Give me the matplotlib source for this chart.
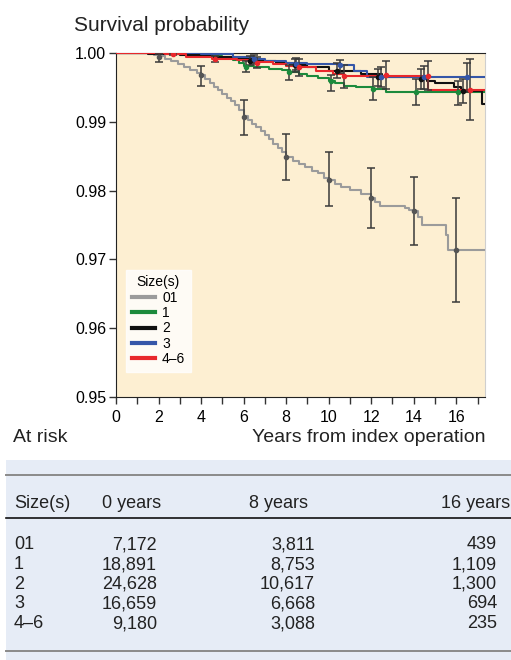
import numpy as np
import matplotlib.pyplot as plt
from matplotlib.patches import Rectangle
from matplotlib.lines import Line2D
from matplotlib.ticker import MultipleLocator

plt.rcParams['font.family'] = ['Liberation Sans', 'DejaVu Sans']

W, H = 511, 660

# Kaplan-Meier step curves (time in years, survival)
grey_t = [0, 1.2, 1.6, 1.8, 2.0, 2.3, 2.6, 2.9, 3.2, 3.5, 3.8, 4.0, 4.2, 4.4, 4.6, 4.8, 5.0,
          5.2, 5.4, 5.6, 5.8, 6.0, 6.2, 6.4, 6.6, 6.8, 7.0, 7.2, 7.4, 7.6, 7.8, 8.0, 8.3, 8.6,
          8.9, 9.2, 9.5, 9.8, 10.0, 10.3, 10.6, 11.0, 11.5, 12.0, 12.2, 12.4, 13.6, 13.8, 14.0,
          14.2, 14.4, 15.5, 15.6, 17.4]
grey_s = [1.0, 0.99995, 0.9999, 0.9997, 0.9995, 0.9992, 0.9988, 0.9984, 0.9980, 0.9976, 0.9971,
          0.9968, 0.9962, 0.9957, 0.9951, 0.9946, 0.9940, 0.9935, 0.9930, 0.9925, 0.9917, 0.9908,
          0.9902, 0.9897, 0.9892, 0.9887, 0.9881, 0.9875, 0.9868, 0.9862, 0.9856, 0.9849, 0.9843,
          0.9839, 0.9834, 0.9829, 0.9825, 0.9819, 0.9815, 0.9809, 0.9805, 0.9801, 0.9795, 0.9789,
          0.9784, 0.9778, 0.9775, 0.9772, 0.9770, 0.9762, 0.9750, 0.9735, 0.9713, 0.9713]

green_t = [0, 1.0, 2.5, 4.0, 5.0, 5.5, 5.8, 6.0, 6.5, 7.2, 7.8, 8.2, 8.6, 9.0, 9.5, 10.0, 10.3,
           10.7, 11.3, 12.1, 12.7, 17.4]
green_s = [1.0, 0.99995, 0.9999, 0.9996, 0.9993, 0.9990, 0.9986, 0.9981, 0.9979, 0.9977, 0.9975,
           0.9972, 0.9969, 0.9967, 0.9964, 0.9960, 0.9957, 0.9952, 0.9950, 0.99476, 0.9943, 0.9943]

black_t = [0, 1.5, 3.0, 4.5, 5.5, 6.5, 7.5, 8.2, 9.0, 10.0, 11.5, 12.5, 14.6, 15.0, 15.9, 16.2,
           17.2, 17.4]
black_s = [1.0, 0.9999, 0.9997, 0.9994, 0.9991, 0.9989, 0.9986, 0.9983, 0.9980, 0.9974, 0.9969,
           0.99646, 0.9960, 0.9956, 0.9950, 0.9945, 0.9926, 0.9926]

blue_t = [0, 2.0, 4.0, 5.5, 6.5, 7.0, 8.0, 9.0, 10.5, 11.2, 11.8, 17.4]
blue_s = [1.0, 0.99995, 0.9998, 0.9994, 0.9991, 0.9988, 0.9985, 0.9984, 0.9982, 0.9974, 0.99646,
          0.99646]

red_t = [0, 2.3, 3.3, 4.5, 5.7, 6.5, 7.4, 8.0, 8.6, 9.4, 10.2, 10.7, 14.65, 17.4]
red_s = [1.0, 0.9999, 0.99945, 0.9991, 0.9990, 0.99873, 0.9984, 0.9981, 0.9979, 0.9974, 0.9969,
         0.9966, 0.99466, 0.99466]

# confidence intervals: time, estimate, lower, upper
grey_ci_t = [2, 4, 6, 8, 10, 12, 14, 16]
grey_ci_m = [0.99935, 0.9968, 0.9907, 0.9849, 0.9815, 0.9789, 0.9770, 0.9713]
grey_ci_lo = [0.9987, 0.99525, 0.98804, 0.9815, 0.97776, 0.97461, 0.97214, 0.96381]
grey_ci_hi = [0.9999, 0.99811, 0.99317, 0.98823, 0.98557, 0.98333, 0.98198, 0.97892]

green_ci_t = [6.13, 8.13, 10.13, 12.1, 14.1, 16.1]
green_ci_m = [0.9980, 0.9973, 0.9959, 0.99476, 0.99437, 0.9943]
green_ci_lo = [0.9973, 0.99605, 0.99451, 0.9932, 0.99247, 0.99247]
green_ci_hi = [0.9989, 0.9983, 0.99684, 0.99646, 0.9962, 0.99597]

black_ci_t = [6.3, 8.42, 10.37, 12.33, 14.33, 16.3]
black_ci_m = [0.9989, 0.9982, 0.9974, 0.99646, 0.9962, 0.9945]
black_ci_lo = [0.9983, 0.9973, 0.9963, 0.9952, 0.9947, 0.9928]
black_ci_hi = [0.9995, 0.9991, 0.9985, 0.9977, 0.9977, 0.9962]

blue_ci_t = [6.47, 8.47, 10.53, 12.48, 14.5, 16.5]
blue_ci_m = [0.99906, 0.9984, 0.9982, 0.99646, 0.99646, 0.99646]
blue_ci_lo = [0.9984, 0.9975, 0.9971, 0.9950, 0.9948, 0.9943]
blue_ci_hi = [0.9997, 0.9993, 0.99905, 0.9979, 0.9981, 0.9986]

red_ci_t = [2.7, 4.65, 6.65, 8.62, 10.73, 12.7, 14.65, 16.65]
red_ci_m = [0.9999, 0.9991, 0.9986, 0.9979, 0.9966, 0.9968, 0.9967, 0.99466]
red_ci_lo = [0.9997, 0.9987, 0.9978, 0.9966, 0.9949, 0.9947, 0.9946, 0.99025]
red_ci_hi = [1.0, 0.9995, 0.9994, 0.9992, 0.9983, 0.9989, 0.9988, 0.99913]

labels = ['01', '1', '2', '3', '4\u20136']
colors = ['#9b9b9b', '#1c8a3c', '#111111', '#3556a8', '#e8282c']

# at-risk table
risk_sizes = ['01', '1', '2', '3', '4\u20136']
risk_0 = ['7,172', '18,891', '24,628', '16,659', '9,180']
risk_8 = ['3,811', '8,753', '10,617', '6,668', '3,088']
risk_16 = ['439', '1,109', '1,300', '694', '235']

fig = plt.figure(figsize=(W / 100, H / 100), dpi=100)


def fx(px):
    return px / W


def fy(py):
    return 1 - py / H


ax = fig.add_axes([fx(116), fy(397), fx(485) - fx(116), fy(53) - fy(397)])
ax.set_facecolor('#fdefd2')

curves = [(grey_t, grey_s), (green_t, green_s), (black_t, black_s), (blue_t, blue_s), (red_t, red_s)]
cis = [(grey_ci_t, grey_ci_m, grey_ci_lo, grey_ci_hi),
       (green_ci_t, green_ci_m, green_ci_lo, green_ci_hi),
       (black_ci_t, black_ci_m, black_ci_lo, black_ci_hi),
       (blue_ci_t, blue_ci_m, blue_ci_lo, blue_ci_hi),
       (red_ci_t, red_ci_m, red_ci_lo, red_ci_hi)]

handles = []
for (t, s), lab, col in zip(curves, labels, colors):
    ln, = ax.plot(t, s, drawstyle='steps-post', color=col, lw=1.5, label=lab, zorder=3)
    handles.append(ln)

for (t, m, lo, hi), col in zip(cis, colors):
    m = np.array(m)
    yerr = [m - np.array(lo), np.array(hi) - m]
    mc = '#555555' if col == colors[0] else col
    ax.errorbar(t, m, yerr=yerr, fmt='o', ms=3, mfc=mc, mec=mc, ecolor='#3a3a3a',
                elinewidth=1.1, capsize=3, capthick=1.1, zorder=4)

ax.set_xlim(0, 17.35)
ax.set_ylim(0.95, 1.0)
ax.xaxis.set_major_locator(MultipleLocator(2))
ax.xaxis.set_minor_locator(MultipleLocator(1))
ax.yaxis.set_major_locator(MultipleLocator(0.01))
ax.yaxis.set_major_formatter(plt.FormatStrFormatter('%.2f'))
ax.tick_params(axis='both', which='both', direction='out', color='#333333', labelsize=11.5)
ax.tick_params(axis='x', which='both', length=5, width=1, pad=4)
ax.tick_params(axis='y', length=5, width=1, pad=2)
ax.spines['right'].set_color('#cfcfcf')
for sp in ['top', 'left', 'bottom']:
    ax.spines[sp].set_color('#222222')

leg = ax.legend(handles=handles, title='Size(s)', loc='lower left', bbox_to_anchor=(0.027, 0.0735),
                borderaxespad=0, fontsize=10, title_fontsize=10, frameon=True, fancybox=False,
                handlelength=1.7, handletextpad=0.5, labelspacing=0.1, borderpad=0.4)
leg.get_frame().set_facecolor('white')
leg.get_frame().set_edgecolor('white')
for lh in leg.get_lines():
    lh.set_linewidth(3)

fig.text(fx(74), fy(30.7), 'Survival probability', fontsize=15, color='#222222', va='baseline')
fig.text(fx(13), fy(441.7), 'At risk', fontsize=14, color='#222222', va='baseline')
fig.text(fx(486), fy(441.7), 'Years from index operation', fontsize=14, color='#222222',
         va='baseline', ha='right')

# table area
fig.add_artist(Rectangle((fx(6), 0), 1 - fx(6), fy(460), transform=fig.transFigure,
                         facecolor='#e6ecf6', edgecolor='none', zorder=0))
for yy, c, lw in [(475, '#8a8a8a', 1.4), (518.3, '#111111', 1.2), (650.7, '#8a8a8a', 1.4)]:
    fig.add_artist(Line2D([fx(6), 1], [fy(yy), fy(yy)], transform=fig.transFigure, color=c, lw=lw))

tfs = 13
tc = '#222222'
fig.text(fx(14), fy(507.7), 'Size(s)', fontsize=tfs, color=tc, va='baseline')
fig.text(fx(101.7), fy(507.7), '0 years', fontsize=tfs, color=tc, va='baseline')
fig.text(fx(249.3), fy(507.7), '8 years', fontsize=tfs, color=tc, va='baseline')
fig.text(fx(510), fy(507.7), '16 years', fontsize=tfs, color=tc, va='baseline', ha='right')
for i, (sz, a, b, c) in enumerate(zip(risk_sizes, risk_0, risk_8, risk_16)):
    yb = fy(549.3 + i * 19.7)
    fig.text(fx(14), yb, sz, fontsize=tfs, color=tc, va='baseline')
    fig.text(fx(157), yb, a, fontsize=tfs, color=tc, va='baseline', ha='right')
    fig.text(fx(315), yb, b, fontsize=tfs, color=tc, va='baseline', ha='right')
    fig.text(fx(497), yb, c, fontsize=tfs, color=tc, va='baseline', ha='right')

fig.savefig('out.png', dpi=100)
